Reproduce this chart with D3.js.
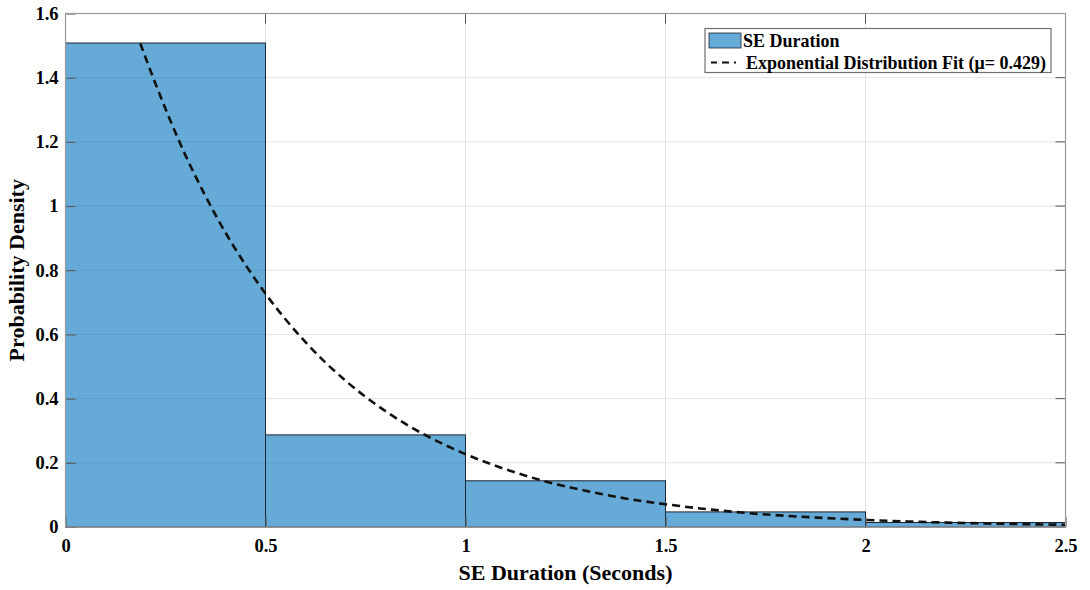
<!DOCTYPE html>
<html>
<head>
<meta charset="utf-8">
<script src="https://cdn.jsdelivr.net/npm/d3@7"></script>
<style>
  body { margin: 0; background: #fff; }
  text { font-family: "Liberation Serif", "Times New Roman", serif; font-weight: bold; fill: #000; }
</style>
</head>
<body>
<div id="chart-area"></div>
<script>
// histogram of SE durations with exponential fit

let binEdges = [0, 0.5, 1, 1.5, 2, 2.5];
let binDensity = [1.508, 0.287, 0.144, 0.047, 0.014];

// fitted curve
let fitX = [0.187, 0.2, 0.25, 0.3, 0.35, 0.4, 0.45, 0.5, 0.6, 0.7, 0.8, 0.9, 1.0, 1.1, 1.2, 1.3, 1.4, 1.5, 1.6, 1.7, 1.8, 1.9, 2.0, 2.1, 2.2, 2.3, 2.4, 2.5];
let fitY = [1.507, 1.463, 1.303, 1.158, 1.031, 0.917, 0.817, 0.727, 0.576, 0.456, 0.361, 0.286, 0.227, 0.180, 0.142, 0.113, 0.089, 0.071, 0.056, 0.044, 0.035, 0.028, 0.022, 0.0175, 0.0138, 0.011, 0.0087, 0.0069];

let xTicks = [0, 0.5, 1, 1.5, 2, 2.5];
let yTicks = [0, 0.2, 0.4, 0.6, 0.8, 1, 1.2, 1.4, 1.6];

let legendLabels = ["SE Duration", "Exponential Distribution Fit (\u03bc= 0.429)"];

let margin = {top: 13.5, right: 24.5, bottom: 63, left: 65.5};
let width = 1090 - margin.left - margin.right,
    height = 590 - margin.top - margin.bottom;

let svg = d3.select("#chart-area").append("svg")
    .attr("width", 1090)
    .attr("height", 590)
    .append("g")
    .attr("transform", "translate(" + margin.left + "," + margin.top + ")");

let x = d3.scaleLinear().domain([0, 2.5]).range([0, width]);
let y = d3.scaleLinear().domain([0, 1.6]).range([height, 0]);

// grid
svg.append("g").selectAll("line.vg")
    .data(xTicks.slice(1, -1))
    .enter().append("line")
    .attr("x1", d => x(d)).attr("x2", d => x(d))
    .attr("y1", 0).attr("y2", height)
    .attr("stroke", "#e3e3e3").attr("stroke-width", 1);

svg.append("g").selectAll("line.hg")
    .data(yTicks.slice(1, -1))
    .enter().append("line")
    .attr("x1", 0).attr("x2", width)
    .attr("y1", d => y(d)).attr("y2", d => y(d))
    .attr("stroke", "#e3e3e3").attr("stroke-width", 1);

// bars
svg.selectAll(".bar")
    .data(binDensity)
    .enter().append("rect")
    .attr("class", "bar")
    .attr("x", (d, i) => x(binEdges[i]))
    .attr("width", (d, i) => x(binEdges[i + 1]) - x(binEdges[i]))
    .attr("y", d => y(d))
    .attr("height", d => height - y(d))
    .attr("fill", "#0072bd")
    .attr("fill-opacity", 0.6)
    .attr("stroke", "#1a2633")
    .attr("stroke-width", 1);

// fit line
let line = d3.line()
    .x((d, i) => x(fitX[i]))
    .y(d => y(d))
    .curve(d3.curveMonotoneX);

svg.append("path")
    .datum(fitY)
    .attr("d", line)
    .attr("fill", "none")
    .attr("stroke", "#111")
    .attr("stroke-width", 2.6)
    .attr("stroke-dasharray", "8,5");

// axes
let xAxis = d3.axisBottom(x).tickValues(xTicks).tickFormat(d3.format("")).tickSizeInner(-10).tickSizeOuter(0).tickPadding(16);
let yAxis = d3.axisLeft(y).tickValues(yTicks).tickFormat(d3.format("")).tickSizeInner(-10).tickSizeOuter(0).tickPadding(7);

let gx = svg.append("g")
    .attr("transform", "translate(0," + height + ")")
    .call(xAxis);
let gy = svg.append("g").call(yAxis);

[gx, gy].forEach(g => {
    g.select(".domain").remove();
    g.selectAll("line").attr("stroke", "#555");
    g.selectAll("text").attr("font-size", 18.5).style("font-family", "Liberation Serif").style("font-weight", "bold").attr("fill", "#000");
});
gx.selectAll("text").attr("dy", "0.5em");
gy.selectAll("text").attr("dy", "0.32em");
// the y tick labels sit outside the inner tick marks
gy.selectAll("text").attr("x", -7);

// ticks on right and top
svg.append("g").selectAll("line")
    .data(yTicks)
    .enter().append("line")
    .attr("x1", width).attr("x2", width - 10)
    .attr("y1", d => y(d)).attr("y2", d => y(d))
    .attr("stroke", "#555");
svg.append("g").selectAll("line")
    .data(xTicks)
    .enter().append("line")
    .attr("x1", d => x(d)).attr("x2", d => x(d))
    .attr("y1", 0).attr("y2", 10)
    .attr("stroke", "#555");

// box
svg.append("rect")
    .attr("x", 0).attr("y", 0)
    .attr("width", width).attr("height", height)
    .attr("fill", "none")
    .attr("stroke", "#9a9a9a")
    .attr("stroke-width", 1.2);

// axis labels
svg.append("text")
    .attr("x", width / 2)
    .attr("y", height + 53)
    .attr("text-anchor", "middle")
    .attr("font-size", 22)
    .text("SE Duration (Seconds)");

svg.append("text")
    .attr("transform", "translate(" + (-41.5) + "," + (height / 2) + ") rotate(-90)")
    .attr("text-anchor", "middle")
    .attr("font-size", 22)
    .text("Probability Density");

// legend
let lg = svg.append("g")
    .attr("transform", "translate(" + (705 - margin.left) + "," + (28.5 - margin.top) + ")");

lg.append("rect")
    .attr("width", 346).attr("height", 44)
    .attr("fill", "#fff")
    .attr("stroke", "#707070")
    .attr("stroke-width", 1.2);

lg.append("rect")
    .attr("x", 4).attr("y", 4.5)
    .attr("width", 32).attr("height", 15)
    .attr("fill", "#0072bd").attr("fill-opacity", 0.6)
    .attr("stroke", "#1a2633").attr("stroke-width", 0.8);

lg.append("line")
    .attr("x1", 6).attr("x2", 40)
    .attr("y1", 34).attr("y2", 34)
    .attr("stroke", "#111").attr("stroke-width", 2.2)
    .attr("stroke-dasharray", "6,5,7,5,2,50");

lg.selectAll("text.leg")
    .data(legendLabels)
    .enter().append("text")
    .attr("x", (d, i) => i === 0 ? 38 : 41)
    .attr("y", (d, i) => 12 + i * 22)
    .attr("dy", "0.35em")
    .attr("font-size", 18)
    .text(d => d);
</script>
</body>
</html>
